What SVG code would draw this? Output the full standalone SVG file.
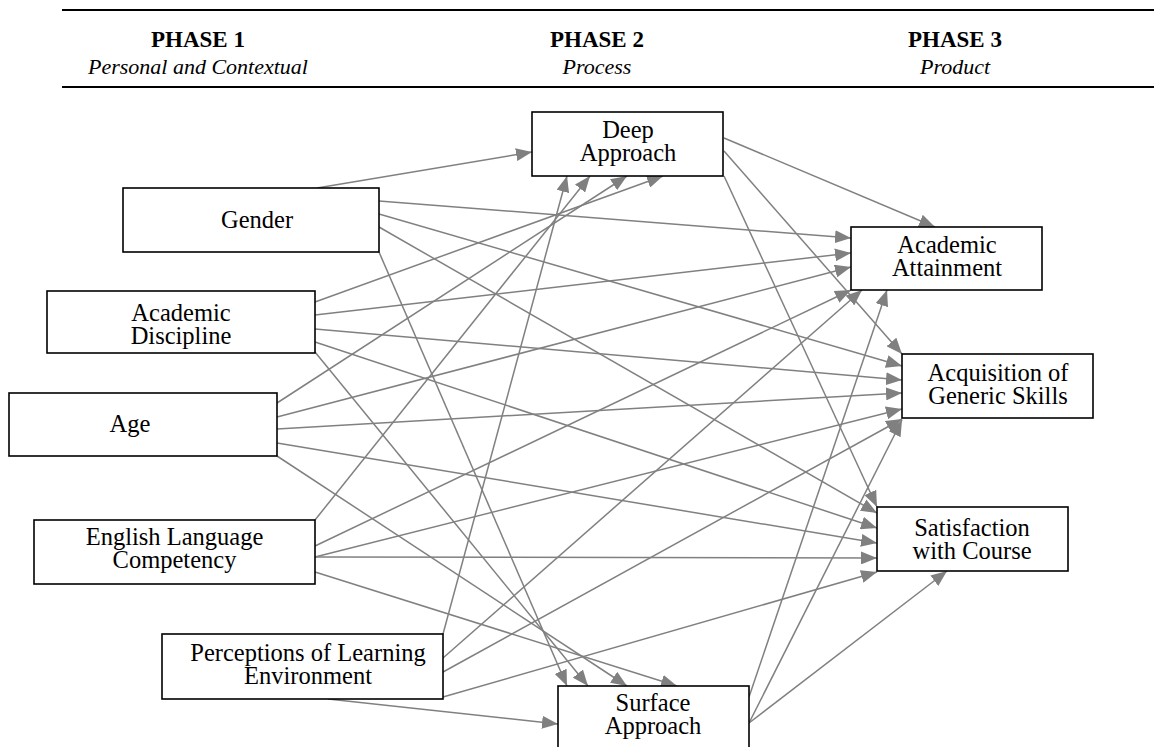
<svg xmlns="http://www.w3.org/2000/svg" width="1154" height="747" viewBox="0 0 1154 747">
  <style>
    .bg { fill: #ffffff; }
    .rule { stroke: #000000; stroke-width: 2; }
    .head { font-family: "Liberation Serif", "Times New Roman", serif; font-size: 23px; font-weight: bold; text-anchor: middle; fill: #000; }
    .sub { font-family: "Liberation Serif", "Times New Roman", serif; font-size: 22px; font-style: italic; text-anchor: middle; fill: #000; }
    .box { fill: #ffffff; stroke: #000000; stroke-width: 1.6; }
    .lbl { font-family: "Liberation Serif", "Times New Roman", serif; font-size: 24.5px; text-anchor: middle; fill: #000; }
    .edge { stroke: #808080; stroke-width: 1.5; fill: none; marker-end: url(#arrow); }
  </style>
  <defs>
    <marker id="arrow" markerUnits="userSpaceOnUse" markerWidth="16" markerHeight="13" refX="16" refY="6.5" orient="auto">
      <path d="M0,0 L16,6.5 L0,13 Z" fill="#808080"/>
    </marker>
  </defs>

  <rect class="bg" x="0" y="0" width="1154" height="747"/>

  <!-- phase header -->
  <g id="header">
    <line class="rule" x1="62" y1="10" x2="1154" y2="10"/>
    <line class="rule" x1="62" y1="87" x2="1154" y2="87"/>
    <text class="head" x="198" y="47">PHASE 1</text>
    <text class="sub" x="198" y="74">Personal and Contextual</text>
    <text class="head" x="597" y="47">PHASE 2</text>
    <text class="sub" x="597" y="74">Process</text>
    <text class="head" x="955" y="47">PHASE 3</text>
    <text class="sub" x="955" y="74">Product</text>
  </g>

  <!-- connectors -->
  <g id="connectors">
    <!-- Gender -->
    <line class="edge" x1="317" y1="188" x2="532" y2="152"/>
    <line class="edge" x1="379" y1="201" x2="851" y2="238"/>
    <line class="edge" x1="379" y1="214" x2="902" y2="366"/>
    <line class="edge" x1="379" y1="227" x2="877" y2="513"/>
    <line class="edge" x1="379" y1="252" x2="567" y2="686"/>
    <!-- Academic Discipline -->
    <line class="edge" x1="315" y1="302" x2="663" y2="176"/>
    <line class="edge" x1="315" y1="315" x2="851" y2="253"/>
    <line class="edge" x1="315" y1="329" x2="902" y2="380"/>
    <line class="edge" x1="315" y1="342" x2="877" y2="528"/>
    <line class="edge" x1="315" y1="352" x2="588" y2="686"/>
    <!-- Age -->
    <line class="edge" x1="277" y1="403" x2="627" y2="176"/>
    <line class="edge" x1="277" y1="417" x2="851" y2="267"/>
    <line class="edge" x1="277" y1="429" x2="902" y2="393"/>
    <line class="edge" x1="277" y1="443" x2="877" y2="543"/>
    <line class="edge" x1="277" y1="456" x2="627" y2="686"/>
    <!-- English Language Competency -->
    <line class="edge" x1="315" y1="520" x2="590" y2="176"/>
    <line class="edge" x1="315" y1="546" x2="851" y2="290"/>
    <line class="edge" x1="315" y1="557" x2="902" y2="409"/>
    <line class="edge" x1="315" y1="557" x2="877" y2="558"/>
    <line class="edge" x1="315" y1="572" x2="677" y2="686"/>
    <!-- Perceptions of Learning Environment -->
    <line class="edge" x1="443" y1="634" x2="567" y2="176"/>
    <line class="edge" x1="443" y1="658" x2="862" y2="290"/>
    <line class="edge" x1="443" y1="672" x2="902" y2="419"/>
    <line class="edge" x1="443" y1="697" x2="877" y2="572"/>
    <line class="edge" x1="328" y1="699" x2="558" y2="724"/>
    <!-- Deep Approach -->
    <line class="edge" x1="724" y1="138" x2="935" y2="227"/>
    <line class="edge" x1="724" y1="151" x2="902" y2="354"/>
    <line class="edge" x1="724" y1="176" x2="877" y2="507"/>
    <!-- Surface Approach -->
    <line class="edge" x1="749" y1="697" x2="887" y2="290"/>
    <line class="edge" x1="749" y1="723" x2="902" y2="420"/>
    <line class="edge" x1="749" y1="723" x2="947" y2="571"/>
  </g>

  <!-- phase 1 nodes -->
  <g id="gender">
    <rect class="box" x="123" y="188" width="256" height="64"/>
    <text class="lbl" x="257" y="228">Gender</text>
  </g>
  <g id="academic-discipline">
    <rect class="box" x="47" y="291" width="268" height="62"/>
    <text class="lbl" x="181" y="320.5">Academic</text>
    <text class="lbl" x="181" y="343.5">Discipline</text>
  </g>
  <g id="age">
    <rect class="box" x="9" y="393" width="268" height="63"/>
    <text class="lbl" x="130" y="432">Age</text>
  </g>
  <g id="english-language-competency">
    <rect class="box" x="34" y="520" width="281" height="64"/>
    <text class="lbl" x="174.5" y="545">English Language</text>
    <text class="lbl" x="174.5" y="568">Competency</text>
  </g>
  <g id="perceptions-of-learning-environment">
    <rect class="box" x="162" y="634" width="281" height="65"/>
    <text class="lbl" x="308" y="660.5">Perceptions of Learning</text>
    <text class="lbl" x="308" y="683.5">Environment</text>
  </g>

  <!-- phase 2 nodes -->
  <g id="deep-approach">
    <rect class="box" x="532" y="112" width="191" height="64"/>
    <text class="lbl" x="628" y="138">Deep</text>
    <text class="lbl" x="628" y="161">Approach</text>
  </g>
  <g id="surface-approach">
    <rect class="box" x="558" y="686" width="191" height="64"/>
    <text class="lbl" x="653" y="711">Surface</text>
    <text class="lbl" x="653" y="734">Approach</text>
  </g>

  <!-- phase 3 nodes -->
  <g id="academic-attainment">
    <rect class="box" x="851" y="227" width="191" height="63"/>
    <text class="lbl" x="947" y="252.5">Academic</text>
    <text class="lbl" x="947" y="275.5">Attainment</text>
  </g>
  <g id="generic-skills">
    <rect class="box" x="902" y="354" width="191" height="64"/>
    <text class="lbl" x="998" y="380.5">Acquisition of</text>
    <text class="lbl" x="998" y="403.5">Generic Skills</text>
  </g>
  <g id="satisfaction">
    <rect class="box" x="877" y="507" width="191" height="64"/>
    <text class="lbl" x="972" y="535.5">Satisfaction</text>
    <text class="lbl" x="972" y="558.5">with Course</text>
  </g>
</svg>
